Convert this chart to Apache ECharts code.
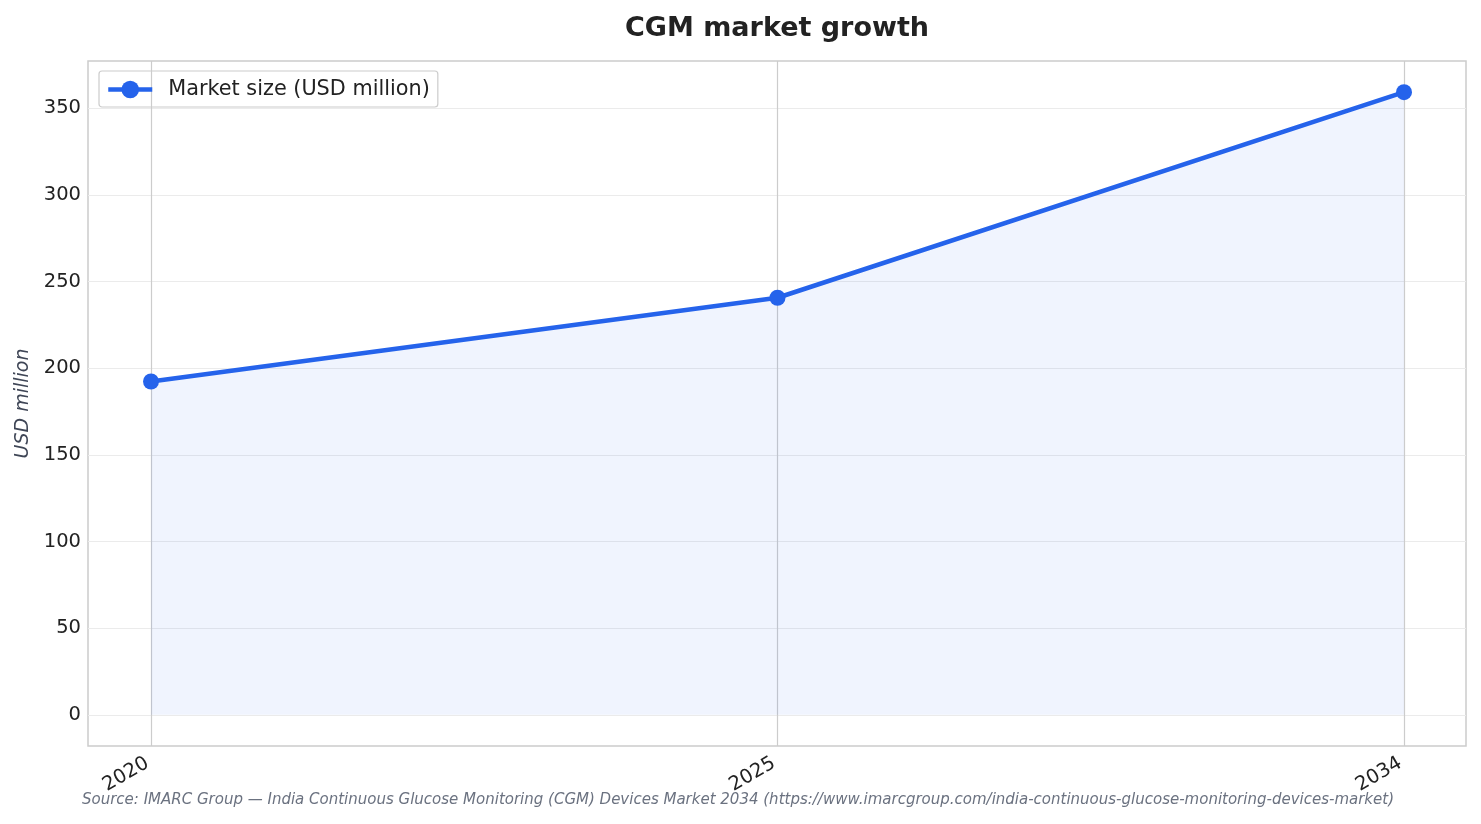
<!DOCTYPE html>
<html>
<head>
<meta charset="utf-8">
<script src="https://cdn.jsdelivr.net/npm/echarts@6/dist/echarts.min.js"></script>
<style>
  html, body { margin: 0; padding: 0; background: #fff; }
  #main { width: 1481px; height: 824px; }
</style>
</head>
<body>
<div id="main"></div>
<script>
const years = ["2020", "2025", "2034"];
const marketSize = [192.3, 240.6, 359.2];
const seriesName = "Market size (USD million)";
const sourceNote = "Source: IMARC Group \u2014 India Continuous Glucose Monitoring (CGM) Devices Market 2034 (https://www.imarcgroup.com/india-continuous-glucose-monitoring-devices-market)";

// y range like matplotlib: data (incl. 0 from the fill) plus 5% margins
const hi = Math.max(...marketSize);
const lo = 0;
const pad = (hi - lo) * 0.05;
const yMin = lo - pad;
const yMax = hi + pad;

const font = "DejaVu Sans";
const blue = "#2563eb";
const chart = echarts.init(document.getElementById("main"));

const option = {
  animation: false,
  backgroundColor: "#fff",
  title: {
    text: "CGM market growth",
    left: 772,
    top: 10,
    textAlign: "center",
    textStyle: { fontFamily: font, fontSize: 27, fontWeight: "bold", color: "#222" },
  },
  legend: {
    left: 99,
    top: 71,
    padding: [8, 8, 7, 7],
    borderColor: "#cccccc",
    borderWidth: 1.2,
    borderRadius: 3,
    itemWidth: 44,
    itemHeight: 22,
    itemGap: 10,
    lineStyle: { width: 4.5 },
    textStyle: { fontFamily: font, fontSize: 20.8, color: "#222", padding: [0, 0, 0, 11] },
    data: [seriesName],
  },
  grid: [
    { left: 88, right: 15, top: 61, bottom: 78, show: true, borderColor: "#cccccc", borderWidth: 1.5 },
    { left: 151, right: 77, top: 61, bottom: 78 },
  ],
  xAxis: [
    { gridIndex: 0, type: "value", min: 0, max: 1, show: false },
    {
      gridIndex: 1,
      type: "category",
      boundaryGap: false,
      data: years,
      axisLine: { show: false },
      axisTick: { show: false },
      axisLabel: { rotate: 30, fontFamily: font, fontSize: 19.5, color: "#222", margin: 14, padding: [0, 4, 0, 0] },
      splitLine: { show: true, lineStyle: { color: "#cccccc", width: 1.2 } },
    },
  ],
  yAxis: [
    {
      gridIndex: 0,
      type: "value",
      min: yMin,
      max: yMax,
      splitNumber: 8,
      name: "USD million",
      nameLocation: "middle",
      nameGap: 55,
      nameTextStyle: { fontFamily: font, fontSize: 19, fontStyle: "italic", color: "#3f4656" },
      axisLine: { show: false },
      axisTick: { show: false },
      axisLabel: { showMinLabel: false, showMaxLabel: false, fontFamily: font, fontSize: 19.5, color: "#222", margin: 7 },
      splitLine: { show: true, showMinLine: false, showMaxLine: false, lineStyle: { color: "#ebebeb", width: 1.2 } },
    },
    { gridIndex: 1, type: "value", min: yMin, max: yMax, show: false, splitLine: { show: false } },
  ],
  series: [
    {
      name: seriesName,
      type: "line",
      xAxisIndex: 1,
      yAxisIndex: 1,
      data: marketSize,
      symbol: "circle",
      symbolSize: 16,
      color: blue,
      lineStyle: { width: 4.5, color: blue },
      itemStyle: { color: blue },
      areaStyle: { color: "rgba(37,99,235,0.1)" },
      z: 3,
    },
  ],
  graphic: [
    {
      type: "text",
      x: 738,
      y: 800,
      style: {
        text: sourceNote,
        align: "center",
        verticalAlign: "middle",
        fontFamily: font,
        fontSize: 15,
        fontStyle: "italic",
        fill: "#6b7280",
      },
    },
  ],
};

chart.setOption(option);
</script>
</body>
</html>
